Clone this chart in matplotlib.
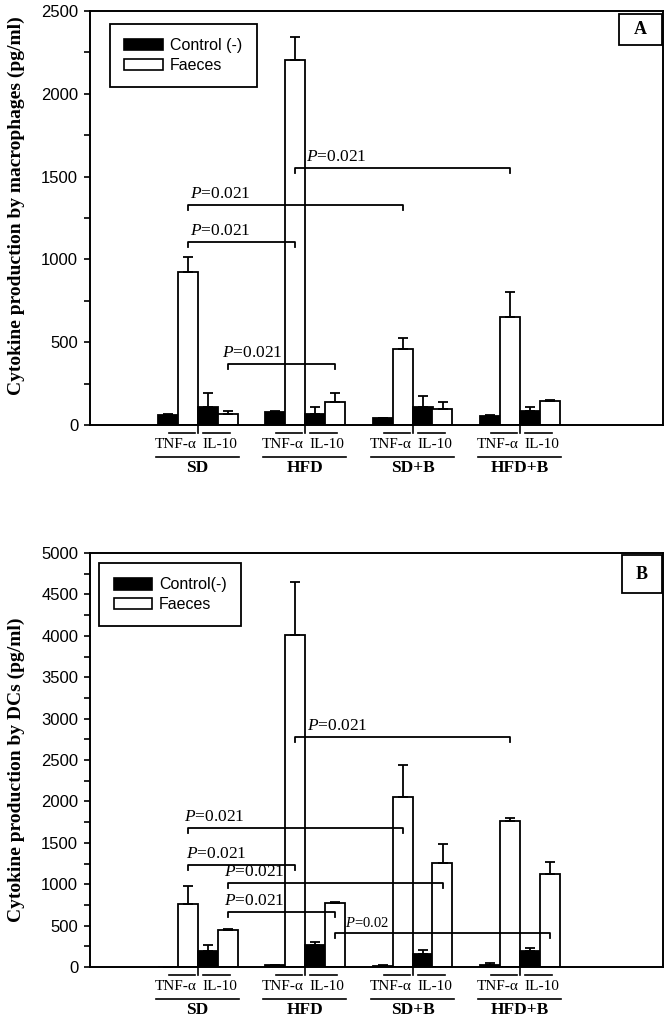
import numpy as np
import matplotlib
matplotlib.use('Agg')
from matplotlib import pyplot as plt
from matplotlib.patches import Patch, Rectangle
from matplotlib.ticker import MultipleLocator

plt.rcParams['font.family'] = 'Liberation Sans'
plt.rcParams['mathtext.fontset'] = 'custom'
plt.rcParams['mathtext.rm'] = 'Liberation Serif'
plt.rcParams['mathtext.it'] = 'Liberation Serif:italic'

groups = ['SD', 'HFD', 'SD+B', 'HFD+B']
cytokines = ['TNF-α', 'IL-10']

# Panel A - macrophages (pg/ml)
mac_control_tnf = [62, 80, 40, 54]
mac_control_tnf_err = [5, 5, 4, 4]
mac_faeces_tnf = [922, 2204, 457, 654]
mac_faeces_tnf_err = [90, 137, 70, 149]
mac_control_il10 = [107, 66, 107, 86]
mac_control_il10_err = [85, 40, 68, 21]
mac_faeces_il10 = [66, 141, 95, 145]
mac_faeces_il10_err = [18, 50, 46, 8]

# Panel B - dendritic cells (pg/ml)
dc_control_tnf = [0, 20, 15, 20]
dc_control_tnf_err = [0, 5, 5, 30]
dc_faeces_tnf = [761, 4010, 2057, 1767]
dc_faeces_tnf_err = [217, 636, 380, 36]
dc_control_il10 = [190, 266, 153, 193]
dc_control_il10_err = [80, 40, 52, 32]
dc_faeces_il10 = [447, 769, 1252, 1119]
dc_faeces_il10_err = [12, 12, 233, 153]

# significance brackets: (group from, bar from, group to, bar to, height, label)
# bar index: 0 control TNF, 1 faeces TNF, 2 control IL-10, 3 faeces IL-10
mac_brackets = [
    (0, 1, 1, 1, 1107, 'P=0.021'),
    (0, 1, 2, 1, 1328, 'P=0.021'),
    (1, 1, 3, 1, 1550, 'P=0.021'),
    (0, 3, 1, 3, 366, 'P=0.021'),
]
dc_brackets = [
    (1, 1, 3, 1, 2781, 'P=0.021'),
    (0, 1, 2, 1, 1683, 'P=0.021'),
    (0, 1, 1, 1, 1232, 'P=0.021'),
    (0, 3, 2, 3, 1011, 'P=0.021'),
    (0, 3, 1, 3, 660, 'P=0.021'),
    (1, 3, 3, 3, 406, 'P=0.02'),
]
# horizontal shift of each P label from the bracket start (pixels)
mac_text_dx = [2, 2, 11, -6]
dc_text_dx = [12, -3, -1, -4, -4, 10]

GROUP_PX = 107.5          # pixels between group centres
AX_H_PX = 414.0           # axes height in pixels
BAR_W = 20 / GROUP_PX
SERIF = 'Liberation Serif'


def px_x(p):
    return p / GROUP_PX


def px_y(p):
    return p / AX_H_PX


def bar_x(g, slot):
    return g + (slot - 1.5) * BAR_W


def draw_panel(ax, series, brackets, text_dx, ymax, ylabel, legend_labels,
               legend_pos, letter, letter_box, label_y):
    x = np.arange(len(groups))
    colors = ['black', 'white', 'black', 'white']
    for slot, (vals, errs) in enumerate(series):
        xs = x + (slot - 1.5) * BAR_W
        ax.bar(xs, vals, BAR_W, color=colors[slot], edgecolor='black',
               linewidth=1.3, zorder=2)
        ax.errorbar(xs, vals, yerr=[np.zeros(len(errs)), errs], fmt='none',
                    ecolor='black', elinewidth=1.3, capsize=3.5,
                    capthick=1.3, zorder=3)

    # brackets
    drop = px_y(5) * ymax
    for (g1, s1, g2, s2, h, lab), dx in zip(brackets, text_dx):
        x1, x2 = bar_x(g1, s1), bar_x(g2, s2)
        ax.plot([x1, x1, x2, x2], [h - drop, h, h, h - drop], color='black',
                lw=1.3, zorder=4)
        txt = '$P$' + lab[1:]
        ax.text(x1 + px_x(dx), h + px_y(3) * ymax, txt, family=SERIF,
                fontsize=12.5 if lab != 'P=0.02' else 10.5,
                ha='left', va='bottom', zorder=5)

    ax.set_xlim(-(197.5 - 90) / GROUP_PX, (663 - 197.5) / GROUP_PX)
    ax.set_ylim(0, ymax)
    ax.yaxis.set_major_locator(MultipleLocator(500))
    ax.yaxis.set_minor_locator(MultipleLocator(250))
    ax.tick_params(axis='y', which='major', direction='out', length=4.5,
                   width=1.2, labelsize=12, pad=4)
    ax.tick_params(axis='y', which='minor', direction='out', length=4,
                   width=1.2)
    ax.set_xticks([])
    for sp in ax.spines.values():
        sp.set_linewidth(1.4)

    ax.set_ylabel(ylabel, family=SERIF, fontweight='bold', fontsize=14)
    ax.yaxis.set_label_coords(-0.113, label_y)

    # category annotations under the x axis
    tr = ax.get_xaxis_transform()
    for g, name in enumerate(groups):
        kw = dict(color='black', lw=1.2, transform=tr, clip_on=False)
        ax.plot([g, g], [0, -px_y(7.7)], **kw)
        ax.plot([g - px_x(29), g - px_x(3)], [-px_y(7.7)] * 2, **kw)
        ax.plot([g + px_x(5), g + px_x(32)], [-px_y(7.7)] * 2, **kw)
        ax.plot([g - px_x(42), g + px_x(41)], [-px_y(31.5)] * 2, **kw)
        ax.text(g - px_x(22), -px_y(20), cytokines[0], family=SERIF,
                fontsize=11, ha='center', va='center', transform=tr)
        ax.text(g + px_x(22), -px_y(20), cytokines[1], family=SERIF,
                fontsize=11, ha='center', va='center', transform=tr)
        ax.text(g, -px_y(43), name, family=SERIF, fontweight='bold',
                fontsize=12.5, ha='center', va='center', transform=tr)

    handles = [Patch(facecolor='black', edgecolor='black', lw=1.2),
               Patch(facecolor='white', edgecolor='black', lw=1.2)]
    leg = ax.legend(handles, legend_labels, loc='upper left',
                    bbox_to_anchor=legend_pos, fontsize=11.5, frameon=True,
                    fancybox=False, edgecolor='black', framealpha=1,
                    borderpad=0.9, labelspacing=0.3, handlelength=2.4,
                    handleheight=0.75, handletextpad=0.45, borderaxespad=0)
    leg.get_frame().set_linewidth(1.3)

    bx0, by0, bx1, by1 = letter_box
    ax.add_patch(Rectangle((bx0, by0), bx1 - bx0, by1 - by0, fill=False,
                           edgecolor='black', lw=1.3, transform=ax.transAxes,
                           zorder=6))
    ax.text((bx0 + bx1) / 2, (by0 + by1) / 2, letter, family=SERIF,
            fontweight='bold', fontsize=13, ha='center', va='center',
            transform=ax.transAxes)


fig = plt.figure(figsize=(6.72, 10.19), dpi=100)
ax_a = fig.add_axes([90 / 672, 1 - 425 / 1019, 573 / 672, 414 / 1019])
ax_b = fig.add_axes([90 / 672, 1 - 967 / 1019, 573 / 672, 414 / 1019])

draw_panel(ax_a,
           [(mac_control_tnf, mac_control_tnf_err),
            (mac_faeces_tnf, mac_faeces_tnf_err),
            (mac_control_il10, mac_control_il10_err),
            (mac_faeces_il10, mac_faeces_il10_err)],
           mac_brackets, mac_text_dx, 2500,
           'Cytokine production by macrophages (pg/ml)',
           ['Control (-)', 'Faeces'], (0.035, 0.969), 'A',
           (0.923, 0.918, 0.998, 0.993), 0.53)

draw_panel(ax_b,
           [(dc_control_tnf, dc_control_tnf_err),
            (dc_faeces_tnf, dc_faeces_tnf_err),
            (dc_control_il10, dc_control_il10_err),
            (dc_faeces_il10, dc_faeces_il10_err)],
           dc_brackets, dc_text_dx, 5000,
           'Cytokine production by DCs (pg/ml)',
           ['Control(-)', 'Faeces'], (0.016, 0.976), 'B',
           (0.928, 0.903, 0.998, 0.995), 0.476)

fig.savefig('out.png', dpi=100)
